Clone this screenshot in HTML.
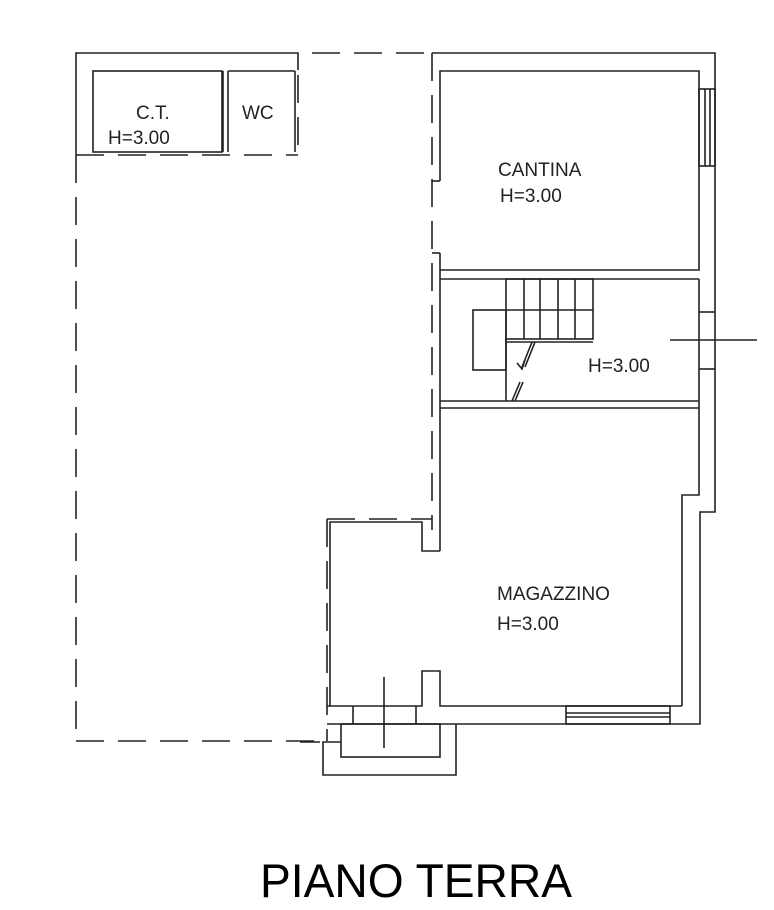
<!DOCTYPE html>
<html><head><meta charset="utf-8"><style>
html,body{margin:0;padding:0;background:#fff;width:774px;height:910px;overflow:hidden}
svg{display:block}
text{font-family:"Liberation Sans",Arial,sans-serif;fill:#222}
</style></head><body>
<svg width="774" height="910" viewBox="0 0 774 910" xmlns="http://www.w3.org/2000/svg">
<g stroke="#222" stroke-width="1.6" fill="none">
<!-- top left solid block -->
<polyline points="76,155 76,53 298,53 298,70"/>
<rect x="93" y="71" width="129" height="81"/>
<line x1="228" y1="71" x2="228" y2="152"/>
<line x1="228" y1="71" x2="295" y2="71"/>
<line x1="295" y1="71" x2="295" y2="152"/>
<line x1="223" y1="71" x2="223" y2="152"/>
<g stroke-dasharray="28,14">
<line x1="76" y1="155" x2="298" y2="155"/>
<line x1="298" y1="75" x2="298" y2="155"/>
<line x1="76" y1="155" x2="76" y2="741"/>
<line x1="76" y1="741" x2="327" y2="741"/>
<line x1="312" y1="53" x2="432" y2="53"/>
<line x1="432" y1="53" x2="432" y2="530"/>
<line x1="327" y1="519" x2="432" y2="519"/>
<line x1="327" y1="519" x2="327" y2="741"/>
</g>
<!-- right building outer -->
<polyline points="432,53 715,53 715,512 700,512 700,724 566,724"/>
<!-- cantina inner -->
<polyline points="440,181 440,71 699,71 699,270 440,270 440,253"/>
<line x1="432" y1="181" x2="440" y2="181"/>
<line x1="432" y1="253" x2="440" y2="253"/>
<!-- window cantina -->
<rect x="699" y="89" width="16" height="77"/>
<line x1="705" y1="89" x2="705" y2="166"/>
<line x1="710" y1="89" x2="710" y2="166"/>
<!-- stair room -->
<polyline points="440,270 440,551"/>
<line x1="440" y1="279" x2="699" y2="279"/>
<line x1="440" y1="401" x2="699" y2="401"/>
<line x1="440" y1="408" x2="699" y2="408"/>
<polyline points="699,279 699,495 682,495 682,706"/>
<line x1="699" y1="312" x2="715" y2="312"/>
<line x1="699" y1="369" x2="715" y2="369"/>
<line x1="670" y1="340" x2="757" y2="340"/>
<!-- stairs -->
<rect x="506" y="279" width="87" height="60"/>
<line x1="506" y1="310" x2="593" y2="310"/>
<line x1="524" y1="279" x2="524" y2="339"/>
<line x1="540" y1="279" x2="540" y2="339"/>
<line x1="558" y1="279" x2="558" y2="339"/>
<line x1="575" y1="279" x2="575" y2="339"/>
<line x1="506" y1="342" x2="593" y2="342"/>
<rect x="473" y="310" width="33" height="60"/>
<line x1="506" y1="339" x2="506" y2="401"/>
<line x1="532" y1="342" x2="522" y2="367"/>
<line x1="535" y1="342" x2="525" y2="367"/>
<polyline points="517,363 522,369 525,360"/>
<line x1="520" y1="382" x2="512" y2="401"/>
<line x1="523" y1="382" x2="515" y2="401"/>
<!-- magazzino -->
<polyline points="330,706 330,522 422,522 422,551 440,551"/>
<polyline points="327,706 422,706 422,671 440,671 440,706 566,706"/>
<line x1="566" y1="706" x2="682" y2="706"/>
<line x1="327" y1="724" x2="566" y2="724"/>
<rect x="566" y="706" width="104" height="18"/>
<line x1="566" y1="713" x2="670" y2="713"/>
<line x1="566" y1="717" x2="670" y2="717"/>
<line x1="353" y1="706" x2="353" y2="724"/>
<line x1="416" y1="706" x2="416" y2="724"/>
<rect x="341" y="724" width="99" height="33"/>
<polyline points="341,742 323,742 323,775 456,775 456,724"/>
<line x1="384" y1="677" x2="384" y2="748"/>
<line x1="300" y1="742" x2="320" y2="742"/>
</g>
<text x="136" y="119" font-size="19">C.T.</text>
<text x="108" y="144" font-size="19">H=3.00</text>
<text x="242" y="119" font-size="19">WC</text>
<text x="498" y="176" font-size="19">CANTINA</text>
<text x="500" y="202" font-size="19">H=3.00</text>
<text x="588" y="372" font-size="19">H=3.00</text>
<text x="497" y="600" font-size="19">MAGAZZINO</text>
<text x="497" y="630" font-size="19">H=3.00</text>
<text x="260" y="897" font-size="47" textLength="312" lengthAdjust="spacingAndGlyphs" style="fill:#000">PIANO TERRA</text>
</svg>
</body></html>
